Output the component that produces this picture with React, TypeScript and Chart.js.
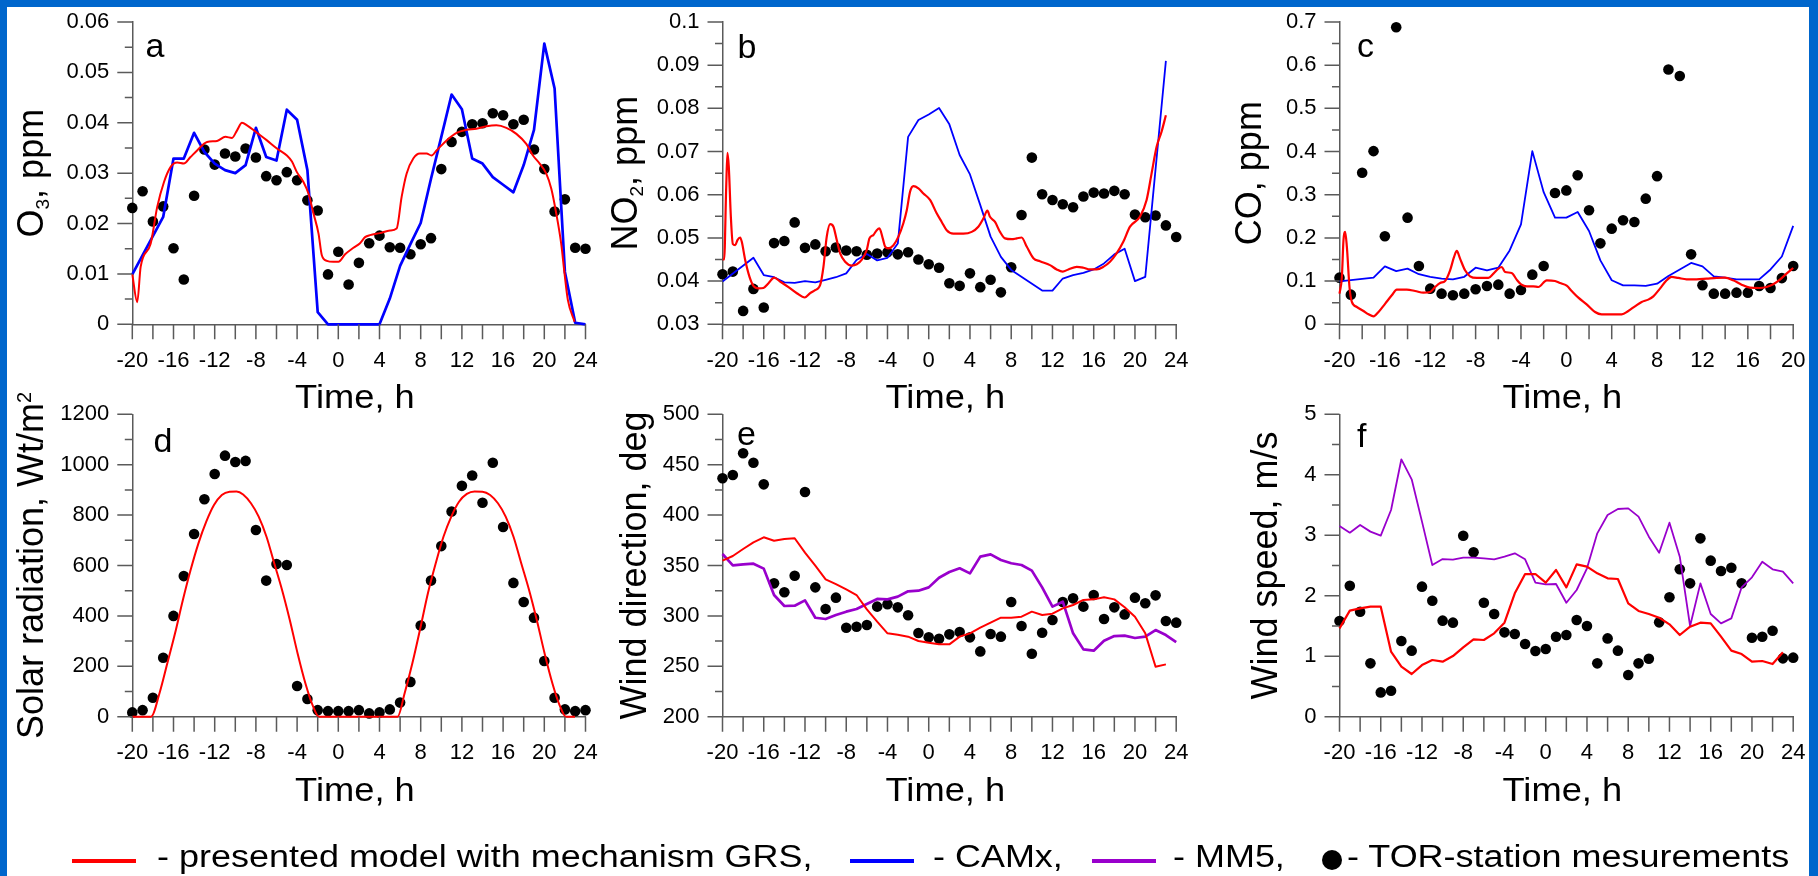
import React, { useEffect, useRef } from 'react';
import { Chart, registerables } from 'chart.js';

Chart.register(...registerables);

const PAGE_W = 1818;
const PAGE_H = 876;
const FONT = '"Liberation Sans", Arial, Helvetica, sans-serif';
const RED = '#ff0000';
const BLUE = '#0000ff';
const PURPLE = '#9900cc';
const AXIS_COLOR = '#5a5a5a';
const FRAME = '#0066cc';

// ---------- categories (hours) ----------
const hours = [-20, -19, -18, -17, -16, -15, -14, -13, -12, -11, -10, -9, -8, -7, -6, -5, -4, -3, -2, -1, 0, 1, 2, 3, 4, 5, 6, 7, 8, 9, 10, 11, 12, 13, 14, 15, 16, 17, 18, 19, 20, 21, 22, 23, 24];
const hoursCO = [-20, -19, -18, -17, -16, -15, -14, -13, -12, -11, -10, -9, -8, -7, -6, -5, -4, -3, -2, -1, 0, 1, 2, 3, 4, 5, 6, 7, 8, 9, 10, 11, 12, 13, 14, 15, 16, 17, 18, 19, 20];
const hoursTo23 = [-20, -19, -18, -17, -16, -15, -14, -13, -12, -11, -10, -9, -8, -7, -6, -5, -4, -3, -2, -1, 0, 1, 2, 3, 4, 5, 6, 7, 8, 9, 10, 11, 12, 13, 14, 15, 16, 17, 18, 19, 20, 21, 22, 23];

// ---------- a: O3 ----------
const o3Obs = [0.0231, 0.0264, 0.0204, 0.0234, 0.0151, 0.0089, 0.0255, 0.0347, 0.0317, 0.0339, 0.0333, 0.0349, 0.0331, 0.0294, 0.0286, 0.0302, 0.0286, 0.0246, 0.0226, 0.0099, 0.0144, 0.0079, 0.0122, 0.0161, 0.0176, 0.0153, 0.0152, 0.0139, 0.0159, 0.0171, 0.0308, 0.0362, 0.0382, 0.0397, 0.0399, 0.0419, 0.0415, 0.0397, 0.0406, 0.0347, 0.0308, 0.0224, 0.0248, 0.0152, 0.0150];
const o3Grs = [[-20, 0.0099], [-19.52, 0.0044], [-19.19, 0.0114], [-18.22, 0.016], [-17.58, 0.0233], [-16.93, 0.0282], [-16.29, 0.0312], [-15.64, 0.0321], [-15.0, 0.0319], [-14.35, 0.0332], [-13.71, 0.0345], [-12.74, 0.0362], [-11.77, 0.0364], [-10.96, 0.0372], [-10.32, 0.037], [-9.83, 0.0385], [-9.35, 0.04], [-8.86, 0.0395], [-7.89, 0.038], [-6.93, 0.0365], [-5.96, 0.0349], [-4.99, 0.0335], [-4.5, 0.0323], [-4.02, 0.0302], [-3.37, 0.0282], [-2.89, 0.0259], [-2.41, 0.022], [-1.92, 0.018], [-1.6, 0.0137], [-1.11, 0.0126], [-0.47, 0.0124], [0.01, 0.0124], [0.66, 0.0139], [1.47, 0.0152], [2.11, 0.0161], [2.6, 0.0173], [3.08, 0.0177], [4.05, 0.0181], [5.02, 0.0186], [5.66, 0.019], [6.15, 0.0253], [6.63, 0.0299], [7.28, 0.0329], [7.92, 0.0339], [8.57, 0.0339], [9.05, 0.0335], [9.54, 0.0345], [10.51, 0.0365], [11.48, 0.038], [12.44, 0.0386], [13.41, 0.0388], [14.38, 0.0393], [15.35, 0.0395], [16.32, 0.039], [17.29, 0.0378], [18.25, 0.0358], [18.9, 0.0335], [19.55, 0.0319], [20.19, 0.0299], [20.68, 0.0269], [21.16, 0.022], [21.64, 0.016], [21.97, 0.01], [22.29, 0.0048], [22.94, 0.0005]];
const o3Camx = [[-20, 0.0099], [-17, 0.0213], [-16, 0.0329], [-15, 0.0329], [-14, 0.038], [-13, 0.0342], [-12, 0.0319], [-11, 0.0306], [-10, 0.03], [-9, 0.0316], [-8, 0.039], [-7, 0.0332], [-6, 0.0325], [-5, 0.0426], [-4, 0.0406], [-3, 0.0306], [-2, 0.0024], [-1, 0], [0, 0], [1, 0], [2, 0], [3, 0], [4, 0], [5, 0.0051], [6, 0.0116], [7, 0.0159], [8, 0.0201], [9, 0.0289], [10, 0.0372], [11, 0.0456], [12, 0.0427], [13, 0.0329], [14, 0.0319], [15, 0.0292], [16, 0.0277], [17, 0.0262], [18, 0.0316], [19, 0.0386], [20, 0.0557], [21, 0.0468], [22, 0.0104], [23, 0.0003], [24, 0]];

// ---------- b: NO2 ----------
const no2Obs = [0.0416, 0.0422, 0.0331, 0.0382, 0.0339, 0.0488, 0.0493, 0.0536, 0.0477, 0.0485, 0.0469, 0.0478, 0.0471, 0.0469, 0.0461, 0.0464, 0.0467, 0.0462, 0.0467, 0.045, 0.0439, 0.0431, 0.0395, 0.0389, 0.0418, 0.0386, 0.0403, 0.0374, 0.0432, 0.0553, 0.0686, 0.0601, 0.0588, 0.0578, 0.0571, 0.0596, 0.0605, 0.0603, 0.0609, 0.0601, 0.0554, 0.0548, 0.0552, 0.0529, 0.0502];
const no2Grs = [[-20, 0.045], [-19.84, 0.045], [-19.64, 0.0618], [-19.52, 0.0697], [-19.39, 0.0665], [-19.19, 0.0549], [-19.0, 0.0486], [-18.77, 0.0483], [-18.55, 0.0495], [-18.29, 0.0501], [-18.13, 0.0491], [-17.8, 0.0449], [-17.38, 0.041], [-17.0, 0.0389], [-16.51, 0.0383], [-16.03, 0.0384], [-15.54, 0.0395], [-14.99, 0.0408], [-14.41, 0.0399], [-13.6, 0.0386], [-12.79, 0.0372], [-12.02, 0.0362], [-11.5, 0.0372], [-11.02, 0.0379], [-10.53, 0.0391], [-10.21, 0.0433], [-9.89, 0.0503], [-9.56, 0.0532], [-9.24, 0.0526], [-8.92, 0.0495], [-8.59, 0.0464], [-8.11, 0.0445], [-7.46, 0.0436], [-6.98, 0.0439], [-6.49, 0.045], [-6.01, 0.0472], [-5.75, 0.0499], [-5.36, 0.0507], [-5.04, 0.0518], [-4.78, 0.0522], [-4.46, 0.0499], [-4.23, 0.048], [-3.91, 0.0476], [-3.42, 0.0483], [-2.94, 0.0503], [-2.46, 0.0534], [-2.13, 0.0564], [-1.81, 0.0607], [-1.49, 0.062], [-1.0, 0.0615], [-0.52, 0.0603], [0.13, 0.0588], [0.77, 0.0557], [1.26, 0.0537], [1.74, 0.0518], [2.39, 0.051], [3.36, 0.051], [4.17, 0.0514], [4.81, 0.0526], [5.3, 0.0545], [5.69, 0.0563], [5.94, 0.0549], [6.43, 0.0537], [6.91, 0.0514], [7.4, 0.0499], [8.04, 0.0497], [8.53, 0.0499], [9.01, 0.0501], [9.5, 0.048], [10.15, 0.0453], [10.79, 0.0446], [11.76, 0.0437], [12.41, 0.0427], [12.99, 0.0422], [13.54, 0.0427], [14.35, 0.0433], [14.99, 0.0431], [15.64, 0.0427], [16.29, 0.0427], [16.93, 0.0433], [17.58, 0.0445], [18.22, 0.0464], [18.87, 0.0491], [19.52, 0.0526], [20.48, 0.0549], [21.13, 0.0588], [21.61, 0.0649], [22.1, 0.0711], [22.58, 0.0746], [23.0, 0.0784]];
const no2Camx = [[-20, 0.0399], [-17, 0.0454], [-16, 0.0414], [-15, 0.0409], [-14, 0.0397], [-13, 0.0396], [-12, 0.04], [-11, 0.0397], [-10, 0.0403], [-9, 0.0409], [-8, 0.0418], [-7, 0.0449], [-6, 0.0463], [-5, 0.0448], [-4, 0.0454], [-3, 0.0487], [-2, 0.0734], [-1, 0.0773], [0, 0.0786], [1, 0.0801], [2, 0.0763], [3, 0.0692], [4, 0.0647], [5, 0.0576], [6, 0.0503], [7, 0.0456], [8, 0.0426], [11, 0.0378], [12, 0.0378], [13, 0.0406], [14, 0.0414], [15, 0.0419], [16, 0.0427], [17, 0.0441], [18, 0.0462], [19, 0.0475], [20, 0.04], [21, 0.041], [23, 0.091]];

// ---------- c: CO ----------
const coObs = [0.108, 0.0687, 0.351, 0.401, 0.204, 0.688, 0.247, 0.135, 0.0826, 0.071, 0.0671, 0.071, 0.081, 0.0888, 0.0918, 0.071, 0.0795, 0.115, 0.135, 0.304, 0.31, 0.345, 0.264, 0.1875, 0.2215, 0.241, 0.237, 0.291, 0.343, 0.59, 0.575, 0.162, 0.0903, 0.071, 0.071, 0.0733, 0.0733, 0.0888, 0.0841, 0.107, 0.135];
const coGrs = [[-20, 0.071], [-19.79, 0.1096], [-19.65, 0.1945], [-19.5, 0.2138], [-19.35, 0.1791], [-19.12, 0.0864], [-18.91, 0.0517], [-18.47, 0.0401], [-17.89, 0.0309], [-17.44, 0.0232], [-17.0, 0.0185], [-16.56, 0.0286], [-15.97, 0.0479], [-15.39, 0.0671], [-14.95, 0.0803], [-14.07, 0.0803], [-13.33, 0.0772], [-12.6, 0.0733], [-12.01, 0.0749], [-11.57, 0.0864], [-11.13, 0.0957], [-10.69, 0.1003], [-10.25, 0.125], [-9.9, 0.1559], [-9.66, 0.1698], [-9.37, 0.152], [-8.93, 0.125], [-8.49, 0.1111], [-7.9, 0.1073], [-6.87, 0.1073], [-6.43, 0.1173], [-5.99, 0.1289], [-5.7, 0.1327], [-5.4, 0.1212], [-4.82, 0.1189], [-4.38, 0.1034], [-3.99, 0.0926], [-3.49, 0.088], [-2.91, 0.088], [-2.47, 0.0864], [-1.73, 0.1019], [-1.0, 0.1003], [-0.56, 0.0957], [0.03, 0.0895], [0.47, 0.0772], [1.06, 0.0617], [1.79, 0.0463], [2.53, 0.0286], [3.11, 0.0232], [3.99, 0.0232], [4.88, 0.0232], [5.46, 0.0309], [6.05, 0.0417], [6.64, 0.0517], [7.22, 0.0571], [7.67, 0.0648], [8.25, 0.0826], [8.84, 0.1019], [9.28, 0.1096], [9.87, 0.1073], [10.6, 0.1042], [11.48, 0.1042], [12.36, 0.1057], [13.25, 0.1073], [13.98, 0.108], [14.71, 0.1019], [15.45, 0.0918], [16.18, 0.0849], [17.0, 0.0841], [17.65, 0.0864], [18.24, 0.0926], [18.83, 0.1034], [19.41, 0.1173], [20.0, 0.1304]];
const coCamx = [[-20, 0.0996], [-17, 0.108], [-16, 0.134], [-15, 0.123], [-14, 0.129], [-13, 0.116], [-12, 0.11], [-11, 0.106], [-10, 0.104], [-9, 0.11], [-8, 0.131], [-7, 0.125], [-6, 0.131], [-5, 0.171], [-4, 0.2315], [-3, 0.401], [-2, 0.306], [-1, 0.247], [0, 0.247], [1, 0.26], [2, 0.216], [3, 0.148], [4, 0.102], [5, 0.09], [6, 0.09], [7, 0.0888], [8, 0.094], [9, 0.112], [10, 0.127], [11, 0.142], [12, 0.134], [13, 0.111], [14, 0.108], [15, 0.104], [16, 0.104], [17, 0.104], [18, 0.127], [19, 0.157], [20, 0.228]];

// ---------- d: solar radiation ----------
const solarObs = [17, 26, 75, 234, 400, 558, 725, 863, 963, 1036, 1011, 1015, 741, 540, 606, 602, 122, 70, 26, 22, 22, 22, 26, 13, 17, 29, 56, 138, 362, 540, 677, 814, 916, 957, 849, 1008, 753, 531, 455, 393, 221, 75, 29, 22, 26];
const solarGrs = [[-20, 0], [-18.19, 0], [-17.36, 93], [-16.6, 212], [-15.85, 331], [-15.09, 463], [-14.34, 582], [-13.58, 688], [-12.82, 774], [-12.07, 840], [-11.31, 880], [-10.56, 893], [-9.88, 894], [-9.24, 882], [-8.48, 847], [-7.73, 794], [-6.97, 714], [-6.22, 609], [-5.46, 503], [-4.71, 384], [-3.95, 251], [-3.19, 132], [-2.44, 40], [-1.87, 0], [5.75, 0], [6.44, 93], [7.19, 212], [8.02, 362], [8.7, 490], [9.46, 609], [10.21, 714], [10.97, 794], [11.72, 853], [12.48, 884], [13.23, 894], [13.99, 893], [14.74, 880], [15.5, 847], [16.25, 794], [17.01, 714], [17.76, 609], [18.52, 503], [19.27, 384], [20.03, 251], [20.79, 132], [21.54, 40], [22.1, 0], [22.98, 0]];

// ---------- e: wind direction ----------
const dirObs = [436.5, 439.8, 461.3, 452.0, 430.5, 332.3, 323.4, 339.9, 422.9, 328.3, 306.8, 318.1, 288.3, 289.3, 291.0, 309.2, 311.5, 308.5, 300.6, 283.0, 278.7, 277.4, 281.7, 284.0, 278.7, 264.8, 282.0, 279.4, 313.8, 290.0, 262.5, 283.3, 295.9, 313.8, 317.4, 309.2, 320.7, 296.9, 308.5, 301.5, 318.1, 312.5, 320.4, 294.9, 293.3];
const dirGrs = [354.8, 359.4, 366.4, 373.0, 378.0, 374.6, 376.3, 377.0, 362.7, 349.8, 336.3, 331.6, 326.3, 320.7, 306.5, 294.3, 282.7, 281.4, 279.4, 275.1, 273.4, 271.8, 271.8, 279.4, 282.7, 288.3, 293.3, 298.2, 298.2, 299.2, 304.2, 300.9, 302.2, 307.5, 310.8, 315.8, 316.4, 318.4, 316.4, 308.5, 299.2, 282.7, 249.6, 251.9];
const dirMm5 = [361.4, 350.2, 351.2, 351.8, 346.9, 320.7, 309.8, 310.1, 315.4, 298.2, 296.9, 300.9, 304.2, 306.8, 311.8, 316.8, 316.4, 319.1, 324.4, 325.0, 328.3, 337.9, 343.5, 347.2, 342.2, 358.8, 361.1, 355.5, 352.2, 350.5, 344.9, 328.3, 309.2, 314.1, 282.7, 266.8, 265.5, 275.4, 280.0, 280.4, 278.1, 279.4, 286.0, 281.0, 274.1];

// ---------- f: wind speed ----------
const spdObs = [1.582, 2.166, 1.736, 0.882, 0.402, 0.43, 1.251, 1.092, 2.15, 1.918, 1.588, 1.555, 2.993, 2.718, 1.885, 1.698, 1.395, 1.367, 1.202, 1.086, 1.119, 1.323, 1.351, 1.599, 1.499, 0.882, 1.295, 1.092, 0.689, 0.882, 0.959, 1.56, 1.974, 2.437, 2.205, 2.949, 2.58, 2.409, 2.464, 2.205, 1.306, 1.323, 1.422, 0.965, 0.976];
const spdGrs = [1.461, 1.753, 1.792, 1.819, 1.819, 1.075, 0.827, 0.706, 0.854, 0.937, 0.91, 1.003, 1.147, 1.279, 1.268, 1.378, 1.555, 2.04, 2.359, 2.359, 2.216, 2.426, 2.139, 2.519, 2.481, 2.37, 2.288, 2.277, 1.874, 1.748, 1.698, 1.637, 1.527, 1.351, 1.488, 1.555, 1.544, 1.323, 1.092, 1.036, 0.91, 0.921, 0.871, 1.064];
const spdMm5 = [3.153, 3.043, 3.17, 3.06, 2.993, 3.418, 4.256, 3.925, 3.225, 2.508, 2.607, 2.596, 2.63, 2.63, 2.618, 2.602, 2.646, 2.701, 2.602, 2.216, 2.189, 2.194, 1.885, 2.095, 2.453, 3.032, 3.335, 3.434, 3.445, 3.308, 2.977, 2.712, 3.208, 2.646, 1.499, 2.205, 1.698, 1.544, 1.626, 2.139, 2.304, 2.563, 2.437, 2.398, 2.205];

// ---------- legend ----------
const legendLabels = ['- presented model with mechanism GRS,', '- CAMx,', '- MM5,', '- TOR-station mesurements'];

// ---------- panel specs ----------
type Rich = { text: string; size: number; dy?: number };
type LineSpec = { xs: number[]; ys: number[]; color: string; width: number; smooth: boolean };
type PanelSpec = {
  letter: string;
  area: { left: number; top: number; right: number; bottom: number };
  xMax: number;
  y: { min: number; max: number; major: number; minor: number };
  yTitle: Rich[];
  yTitleX: number;
  letterAt: [number, number];
  lines: LineSpec[];
  obsX: number[];
  obsY: number[];
};

const fromPairs = (p: number[][], color: string, width: number, smooth: boolean): LineSpec => ({
  xs: p.map((q) => q[0]),
  ys: p.map((q) => q[1]),
  color,
  width,
  smooth,
});

const ROW1 = { top: 22, bottom: 324.3 };
const ROW2 = { top: 414.3, bottom: 716.7 };
const COL1 = { left: 132.3, right: 585.5 };
const COL2 = { left: 722.5, right: 1176.2 };
const COL3 = { left: 1339.5, right: 1793.2 };

const PANELS: PanelSpec[] = [
  {
    letter: 'a',
    area: { ...COL1, ...ROW1 },
    xMax: 24,
    y: { min: 0, max: 0.06, major: 0.01, minor: 0.005 },
    yTitle: [{ text: 'O', size: 36 }, { text: '3', size: 19, dy: 6 }, { text: ', ppm', size: 36 }],
    yTitleX: 42.8,
    letterAt: [145.5, 56.7],
    lines: [fromPairs(o3Grs, RED, 2, true), fromPairs(o3Camx, BLUE, 2.7, false)],
    obsX: hours,
    obsY: o3Obs,
  },
  {
    letter: 'b',
    area: { ...COL2, ...ROW1 },
    xMax: 24,
    y: { min: 0.03, max: 0.1, major: 0.01, minor: 0.005 },
    yTitle: [{ text: 'NO', size: 36 }, { text: '2', size: 19, dy: 6 }, { text: ', ppm', size: 36 }],
    yTitleX: 637,
    letterAt: [737.5, 57.7],
    lines: [fromPairs(no2Grs, RED, 2.2, true), fromPairs(no2Camx, BLUE, 1.8, false)],
    obsX: hours,
    obsY: no2Obs,
  },
  {
    letter: 'c',
    area: { ...COL3, ...ROW1 },
    xMax: 20,
    y: { min: 0, max: 0.7, major: 0.1, minor: 0.05 },
    yTitle: [{ text: 'CO, ppm', size: 36 }],
    yTitleX: 1261,
    letterAt: [1357, 57],
    lines: [fromPairs(coGrs, RED, 2.2, true), fromPairs(coCamx, BLUE, 1.8, false)],
    obsX: hoursCO,
    obsY: coObs,
  },
  {
    letter: 'd',
    area: { ...COL1, ...ROW2 },
    xMax: 24,
    y: { min: 0, max: 1200, major: 200, minor: 100 },
    yTitle: [{ text: 'Solar radiation, Wt/m', size: 36 }, { text: '2', size: 20, dy: -12 }],
    yTitleX: 42.8,
    letterAt: [153.5, 451.7],
    lines: [fromPairs(solarGrs, RED, 2, true)],
    obsX: hours,
    obsY: solarObs,
  },
  {
    letter: 'e',
    area: { ...COL2, ...ROW2 },
    xMax: 24,
    y: { min: 200, max: 500, major: 50, minor: 25 },
    yTitle: [{ text: 'Wind direction, deg', size: 36 }],
    yTitleX: 646,
    letterAt: [737, 445],
    lines: [
      { xs: hoursTo23, ys: dirGrs, color: RED, width: 2, smooth: false },
      { xs: hours, ys: dirMm5, color: PURPLE, width: 2.7, smooth: false },
    ],
    obsX: hours,
    obsY: dirObs,
  },
  {
    letter: 'f',
    area: { ...COL3, ...ROW2 },
    xMax: 24,
    y: { min: 0, max: 5, major: 1, minor: 0.5 },
    yTitle: [{ text: 'Wind speed, m/s', size: 36 }],
    yTitleX: 1277,
    letterAt: [1357, 446.7],
    lines: [
      { xs: hoursTo23, ys: spdGrs, color: RED, width: 2.2, smooth: false },
      { xs: hours, ys: spdMm5, color: PURPLE, width: 1.8, smooth: false },
    ],
    obsX: hours,
    obsY: spdObs,
  },
];

// ---------- helpers ----------
const Y_AXIS_W = 100;
const X_AXIS_H = 100;
const TICK_LEN = 15;

function stepTicks(min: number, max: number, step: number): number[] {
  const out: number[] = [];
  const n = Math.round((max - min) / step);
  for (let i = 0; i <= n; i++) out.push(+(min + i * step).toFixed(6));
  return out;
}
const isMultiple = (v: number, m: number) => Math.abs(v / m - Math.round(v / m)) < 1e-6;
const fmt = (v: number) => String(+v.toFixed(4));

function drawRich(ctx: CanvasRenderingContext2D, parts: Rich[], bx: number, cy: number) {
  ctx.save();
  ctx.translate(bx, cy);
  ctx.rotate(-Math.PI / 2);
  ctx.textAlign = 'left';
  ctx.textBaseline = 'alphabetic';
  ctx.fillStyle = '#000';
  let total = 0;
  const widths = parts.map((p) => {
    ctx.font = `${p.size}px ${FONT}`;
    const w = ctx.measureText(p.text).width;
    total += w;
    return w;
  });
  let x = -total / 2;
  parts.forEach((p, i) => {
    ctx.font = `${p.size}px ${FONT}`;
    ctx.fillText(p.text, x, p.dy || 0);
    x += widths[i];
  });
  ctx.restore();
}

function decorPlugin(spec: PanelSpec) {
  return {
    id: 'decor_' + spec.letter,
    afterDraw(chart: any) {
      const { ctx, chartArea } = chart;
      const xs = chart.scales.x;
      const ys = chart.scales.y;
      ctx.save();
      ctx.strokeStyle = AXIS_COLOR;
      ctx.lineWidth = 1.5;
      ctx.beginPath();
      for (const t of ys.ticks) {
        const py = ys.getPixelForValue(t.value);
        const len = isMultiple(t.value, spec.y.major) ? TICK_LEN : TICK_LEN / 2;
        ctx.moveTo(chartArea.left - len, py);
        ctx.lineTo(chartArea.left, py);
      }
      for (const t of xs.ticks) {
        const px = xs.getPixelForValue(t.value);
        ctx.moveTo(px, chartArea.bottom);
        ctx.lineTo(px, chartArea.bottom + TICK_LEN);
      }
      ctx.stroke();

      // x-axis title
      ctx.fillStyle = '#000';
      ctx.font = `33px ${FONT}`;
      ctx.textAlign = 'center';
      ctx.textBaseline = 'alphabetic';
      ctx.save();
      ctx.translate((chartArea.left + chartArea.right) / 2 - 4, chartArea.bottom + 84);
      ctx.scale(1.1, 1);
      ctx.fillText('Time, h', 0, 0);
      ctx.restore();

      // y-axis title
      drawRich(ctx, spec.yTitle, spec.yTitleX, (chartArea.top + chartArea.bottom) / 2);

      // panel letter
      ctx.font = `34px ${FONT}`;
      ctx.textAlign = 'left';
      ctx.fillText(spec.letter, spec.letterAt[0], spec.letterAt[1]);
      ctx.restore();
    },
  };
}

function buildConfig(spec: PanelSpec): any {
  const { area } = spec;
  const xTicks = stepTicks(-20, spec.xMax, 2);
  const yTicks = stepTicks(spec.y.min, spec.y.max, spec.y.minor);
  const tickFont = { family: FONT, size: 22 };

  const lineSets = spec.lines.map((l) => ({
    type: 'line',
    data: l.xs.map((x, i) => ({ x, y: l.ys[i] })),
    borderColor: l.color,
    backgroundColor: l.color,
    borderWidth: l.width,
    borderJoinStyle: 'round',
    pointRadius: 0,
    pointHoverRadius: 0,
    fill: false,
    tension: 0,
    cubicInterpolationMode: l.smooth ? 'monotone' : 'default',
    clip: false,
  }));

  const obsSet = {
    type: 'scatter',
    data: spec.obsX.map((x, i) => ({ x, y: spec.obsY[i] })),
    pointRadius: 5.3,
    pointHoverRadius: 5.3,
    pointBackgroundColor: '#000',
    pointBorderColor: '#000',
    pointBorderWidth: 0,
    backgroundColor: '#000',
    borderColor: '#000',
    showLine: false,
    clip: false,
  };

  return {
    type: 'scatter',
    data: { datasets: [...lineSets, obsSet] },
    options: {
      responsive: false,
      maintainAspectRatio: false,
      animation: false,
      devicePixelRatio: 1,
      events: [],
      layout: {
        padding: {
          left: area.left - Y_AXIS_W,
          top: area.top,
          right: PAGE_W - area.right,
          bottom: PAGE_H - area.bottom - X_AXIS_H,
        },
      },
      plugins: { legend: { display: false }, tooltip: { enabled: false }, title: { display: false } },
      scales: {
        x: {
          type: 'linear',
          min: -20,
          max: spec.xMax,
          afterBuildTicks: (s: any) => {
            s.ticks = xTicks.map((v) => ({ value: v }));
          },
          afterFit: (s: any) => {
            s.height = X_AXIS_H;
          },
          grid: { display: false, drawTicks: true, tickLength: TICK_LEN },
          border: { display: true, color: AXIS_COLOR, width: 1.5 },
          ticks: {
            autoSkip: false,
            maxRotation: 0,
            minRotation: 0,
            padding: 8,
            color: '#000',
            font: tickFont,
            callback: (v: number) => (isMultiple(v, 4) ? fmt(v) : ''),
          },
        },
        y: {
          type: 'linear',
          min: spec.y.min,
          max: spec.y.max,
          afterBuildTicks: (s: any) => {
            s.ticks = yTicks.map((v) => ({ value: v }));
          },
          afterFit: (s: any) => {
            s.width = Y_AXIS_W;
          },
          grid: { display: false, drawTicks: true, tickLength: TICK_LEN },
          border: { display: true, color: AXIS_COLOR, width: 1.5 },
          ticks: {
            autoSkip: false,
            padding: 8,
            color: '#000',
            font: tickFont,
            callback: (v: number) => (isMultiple(v, spec.y.major) ? fmt(v) : ''),
          },
        },
      },
    },
    plugins: [decorPlugin(spec)],
  };
}

// ---------- component ----------
const legendTextStyle = (left: number): React.CSSProperties => ({
  position: 'absolute',
  left,
  top: 840.8,
  font: `31px ${FONT}`,
  lineHeight: '31px',
  whiteSpace: 'pre',
  color: '#000',
  transform: 'scaleX(1.16)',
  transformOrigin: '0 50%',
});
const legendLine = (left: number, color: string): React.CSSProperties => ({
  position: 'absolute',
  left,
  top: 859,
  width: 64,
  height: 4,
  background: color,
});

export default function App() {
  const refs = useRef<(HTMLCanvasElement | null)[]>([]);

  useEffect(() => {
    const charts = PANELS.map((spec, i) => new Chart(refs.current[i] as HTMLCanvasElement, buildConfig(spec)));
    return () => charts.forEach((c) => c.destroy());
  }, []);

  return (
    <div
      style={{
        position: 'fixed',
        left: 0,
        top: 0,
        width: PAGE_W,
        height: PAGE_H,
        background: FRAME,
        overflow: 'hidden',
      }}
    >
      <div style={{ position: 'absolute', left: 7, top: 7, width: 1802, height: PAGE_H - 7, background: '#fff' }} />
      {PANELS.map((p, i) => (
        <canvas
          key={p.letter}
          ref={(el) => {
            refs.current[i] = el;
          }}
          width={PAGE_W}
          height={PAGE_H}
          style={{ position: 'absolute', left: 0, top: 0, width: PAGE_W, height: PAGE_H, pointerEvents: 'none' }}
        />
      ))}
      <div style={legendLine(72, RED)} />
      <div style={legendTextStyle(156.5)}>{legendLabels[0]}</div>
      <div style={legendLine(850, BLUE)} />
      <div style={legendTextStyle(933.3)}>{legendLabels[1]}</div>
      <div style={legendLine(1092, PURPLE)} />
      <div style={legendTextStyle(1173.3)}>{legendLabels[2]}</div>
      <div
        style={{
          position: 'absolute',
          left: 1322,
          top: 850,
          width: 20,
          height: 20,
          borderRadius: '50%',
          background: '#000',
        }}
      />
      <div style={legendTextStyle(1347.2)}>{legendLabels[3]}</div>
    </div>
  );
}
